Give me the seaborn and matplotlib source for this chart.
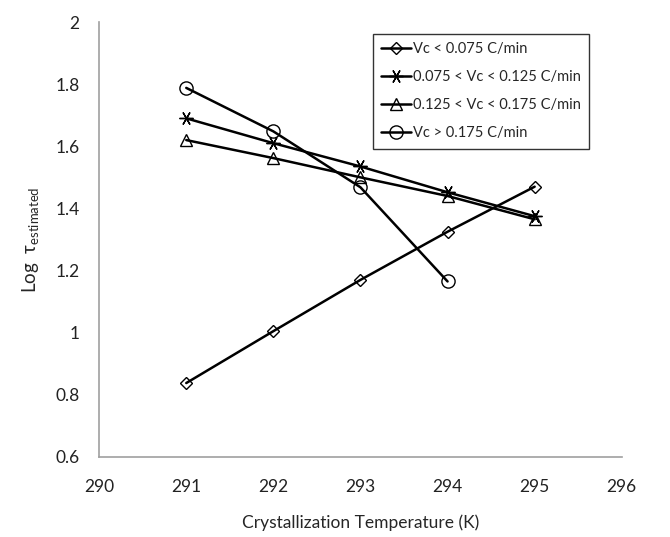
import pandas as pd
import seaborn as sns
import matplotlib
matplotlib.use("Agg")
import matplotlib.pyplot as plt

# values
temps = [291, 292, 293, 294, 295]
labels = ["Vc < 0.075 C/min", "0.075 < Vc < 0.125 C/min",
          "0.125 < Vc < 0.175 C/min", "Vc > 0.175 C/min"]
slow = [0.838, 1.005, 1.17, 1.325, 1.47]
mid = [1.69, 1.61, 1.535, 1.452, 1.375]
fast = [1.62, 1.562, 1.5, 1.44, 1.365]
fastest = [1.788, 1.648, 1.468, 1.165]

rows = []
for lab, vals in zip(labels, [slow, mid, fast, fastest]):
    for t, v in zip(temps, vals):
        rows.append({"temp": t, "logtau": v, "rate": lab})
df = pd.DataFrame(rows)

sns.set_style("white")
plt.rcParams["font.family"] = ["Lato", "DejaVu Sans"]
plt.rcParams["mathtext.fontset"] = "custom"
plt.rcParams["mathtext.rm"] = "Lato"

fig, ax = plt.subplots(figsize=(6.7, 5.37), dpi=100)
fig.subplots_adjust(left=0.148, right=0.928, top=0.959, bottom=0.149)

markers = {labels[0]: "D", labels[1]: (6, 2, 90), labels[2]: "^", labels[3]: "o"}
sizes = {labels[0]: 6, labels[1]: 10, labels[2]: 9, labels[3]: 9.5}

for lab in labels:
    sub = df[df["rate"] == lab]
    sns.lineplot(data=sub, x="temp", y="logtau", ax=ax, color="black",
                 linewidth=1.8, marker=markers[lab], markersize=sizes[lab],
                 markerfacecolor="none", markeredgecolor="black",
                 markeredgewidth=1.0, label=lab)

ax.set_xlim(290, 296)
ax.set_ylim(0.6, 2.0)
ax.set_xticks(range(290, 297))
ax.set_yticks([0.6, 0.8, 1.0, 1.2, 1.4, 1.6, 1.8, 2.0])
ax.set_yticklabels(["0.6", "0.8", "1", "1.2", "1.4", "1.6", "1.8", "2"])
ax.tick_params(axis="both", labelsize=12.5, length=0, colors="#222222")
ax.tick_params(axis="x", pad=16)
ax.tick_params(axis="y", pad=14)

for s in ["top", "right"]:
    ax.spines[s].set_visible(False)
for s in ["left", "bottom"]:
    ax.spines[s].set_color("#a0a0a0")
    ax.spines[s].set_linewidth(1.2)

ax.set_xlabel("Crystallization Temperature (K)", fontsize=12.5, labelpad=14)
ax.set_ylabel("Log  τ$_{\\mathregular{estimated}}$", fontsize=13.5, labelpad=10)

leg = ax.legend(loc="upper right", bbox_to_anchor=(0.952, 0.99), fontsize=10.5,
                frameon=True, fancybox=False, edgecolor="black",
                handlelength=2.0, handletextpad=0.15, labelspacing=0.95,
                borderpad=0.6)
leg.get_frame().set_linewidth(1.0)

fig.savefig("out.png", dpi=100)
